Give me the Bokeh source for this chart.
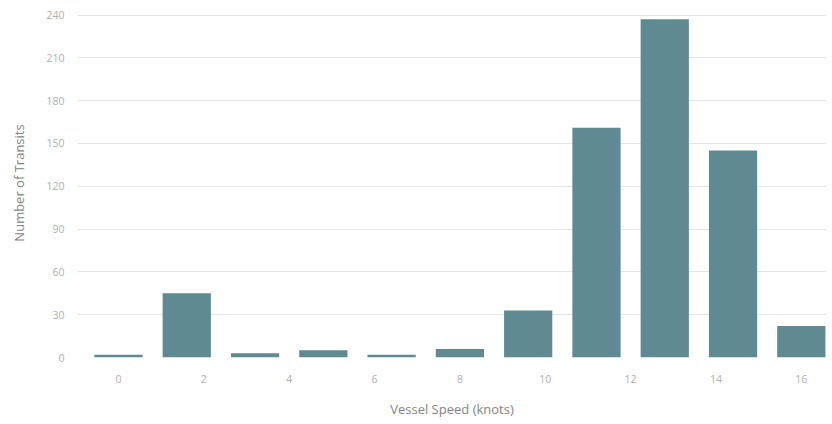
from bokeh.plotting import figure
from bokeh.models import FixedTicker, ColumnDataSource, Range1d
from bokeh.embed import file_html
from bokeh.resources import INLINE

# Data
speeds = [0.0, 1.6, 3.2, 4.8, 6.4, 8.0, 9.6, 11.2, 12.8, 14.4, 16.0]
transits = [2, 45, 3, 5, 2, 6, 33, 161, 237, 145, 22]
x_ticks = [0, 2, 4, 6, 8, 10, 12, 14, 16]
y_ticks = [0, 30, 60, 90, 120, 150, 180, 210, 240]

src = ColumnDataSource(dict(x=speeds, top=transits))

FONT = "Open Sans"

p = figure(frame_width=749, frame_height=349,
           x_range=Range1d(-0.96, 16.59), y_range=Range1d(0, 244.6),
           output_backend="svg", toolbar_location=None,
           min_border_left=77, min_border_right=0, min_border_top=8,
           min_border_bottom=60)
p.outline_line_color = None
p.background_fill_color = "white"
p.border_fill_color = "white"

p.vbar(x="x", top="top", bottom=0, width=1.13, source=src,
       fill_color="#5f8a91", line_color=None)

p.xgrid.grid_line_color = None
p.ygrid.grid_line_color = "#e6e6e6"
p.ygrid.grid_line_width = 1
p.ygrid.ticker = FixedTicker(ticks=y_ticks)

p.xaxis.ticker = FixedTicker(ticks=x_ticks)
p.yaxis.ticker = FixedTicker(ticks=y_ticks)

for ax in (p.xaxis[0], p.yaxis[0]):
    ax.axis_line_color = None
    ax.major_tick_line_color = None
    ax.minor_tick_line_color = None
    ax.major_tick_out = 0
    ax.major_tick_in = 0
    ax.minor_tick_out = 0
    ax.major_label_text_font = FONT
    ax.major_label_text_font_size = "10.5px"
    ax.major_label_text_color = "#b0b0b0"
    ax.axis_label_text_font = FONT
    ax.axis_label_text_font_size = "13px"
    ax.axis_label_text_font_style = "normal"
    ax.axis_label_text_color = "#858585"

p.xaxis.axis_label = "Vessel Speed (knots)"
p.yaxis.axis_label = "Number of Transits"
p.xaxis.major_label_standoff = 17
p.xaxis.axis_label_standoff = 14
p.yaxis.major_label_standoff = 13
p.yaxis.axis_label_standoff = 15

open("out.html", "w").write(file_html(p, INLINE))
